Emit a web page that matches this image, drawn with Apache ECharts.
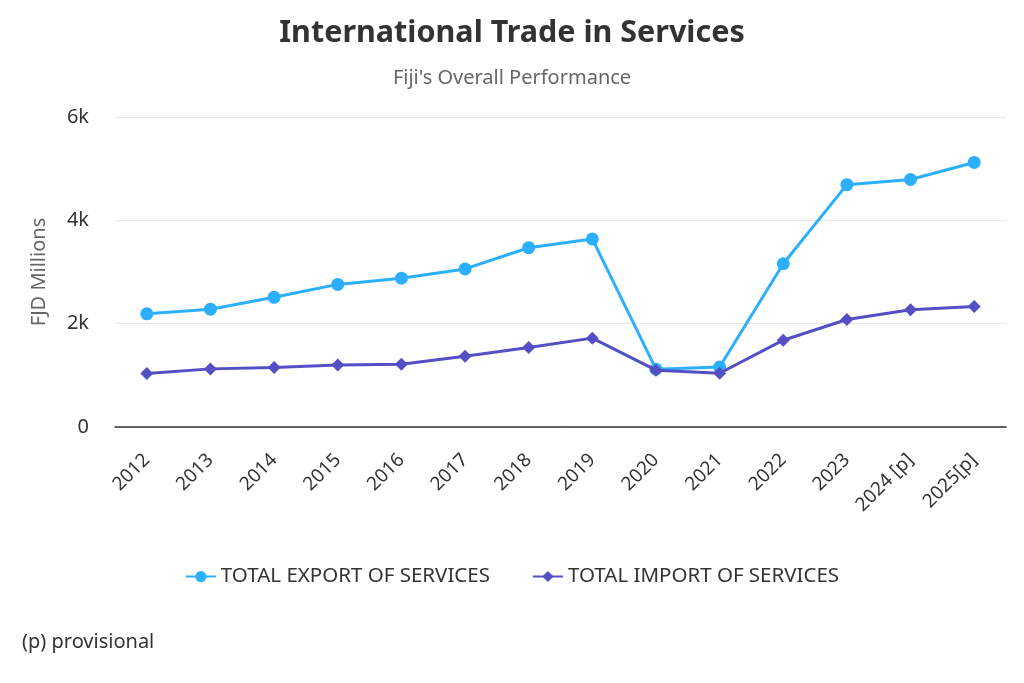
<html>
<head>
<meta charset="UTF-8" />
<script src="https://cdn.jsdelivr.net/npm/echarts@6/dist/echarts.min.js"></script>
</head>
<style type="text/css">
    *{
        margin: 0;
        padding: 0;
    }
    body{
        background: #fff;
    }
    .main{
        width: 1024px;
        height: 683px;
        position: absolute;
    }
</style>
<body>
<div class="main" id="chart"></div>
<script type="text/javascript">
    // categories and values (FJD millions)
    var years = ['2012', '2013', '2014', '2015', '2016', '2017', '2018', '2019',
        '2020', '2021', '2022', '2023', '2024 [p]', '2025[p]'];
    var exportServices = [2190, 2280, 2510, 2760, 2880, 3060, 3470, 3640,
        1120, 1160, 3160, 4690, 4790, 5120];
    var importServices = [1035, 1125, 1150, 1200, 1215, 1370, 1540, 1720,
        1100, 1040, 1680, 2080, 2270, 2330];

    var font = '"Noto Sans", "Open Sans", sans-serif';
    var myChart = echarts.init(document.getElementById('chart'));

    var option = {
        backgroundColor: '#ffffff',
        textStyle: { fontFamily: font },
        title: [{
            text: 'International Trade in Services',
            left: 'center',
            top: 13,
            textStyle: { fontSize: 30.5, fontWeight: 'bold', color: '#333333', fontFamily: font }
        }, {
            text: "Fiji's Overall Performance",
            left: 'center',
            top: 63,
            textStyle: { fontSize: 20, fontWeight: 'normal', color: '#666666', fontFamily: font }
        }, {
            text: '(p) provisional',
            left: 17,
            top: 627,
            textStyle: { fontSize: 20, fontWeight: 'normal', color: '#333333', fontFamily: font }
        }],
        legend: {
            bottom: 91,
            left: 'center',
            itemGap: 42,
            itemWidth: 30,
            itemHeight: 14,
            textStyle: { fontSize: 20.5, color: '#333333', fontFamily: font },
            data: ['TOTAL EXPORT OF SERVICES', 'TOTAL IMPORT OF SERVICES']
        },
        grid: {
            left: 115,
            right: 18,
            top: 117,
            bottom: 256
        },
        xAxis: {
            type: 'category',
            data: years,
            boundaryGap: true,
            axisLine: { lineStyle: { color: '#333333', width: 1.5 } },
            axisTick: { show: false },
            axisLabel: {
                rotate: 45,
                fontSize: 19,
                color: '#333333',
                margin: 30,
                fontFamily: font,
                interval: 0
            }
        },
        yAxis: {
            type: 'value',
            min: 0,
            max: 6000,
            interval: 2000,
            name: 'FJD Millions',
            nameLocation: 'middle',
            nameGap: 66,
            nameTextStyle: { fontSize: 20, color: '#666666', fontFamily: font },
            axisLine: { show: false },
            axisTick: { show: false },
            splitLine: { lineStyle: { color: '#e6e6e6', width: 1 } },
            axisLabel: {
                fontSize: 20,
                color: '#333333',
                margin: 26,
                fontFamily: font,
                formatter: function (v) { return v === 0 ? '0' : (v / 1000) + 'k'; }
            }
        },
        series: [{
            name: 'TOTAL EXPORT OF SERVICES',
            type: 'line',
            data: exportServices,
            symbol: 'circle',
            symbolSize: 13,
            color: '#2caffe',
            lineStyle: { width: 3 },
            z: 2
        }, {
            name: 'TOTAL IMPORT OF SERVICES',
            type: 'line',
            data: importServices,
            symbol: 'diamond',
            symbolSize: 13,
            color: '#544fc5',
            lineStyle: { width: 3 },
            z: 3
        }]
    };
    myChart.setOption(option);
</script>
</body>
</html>
